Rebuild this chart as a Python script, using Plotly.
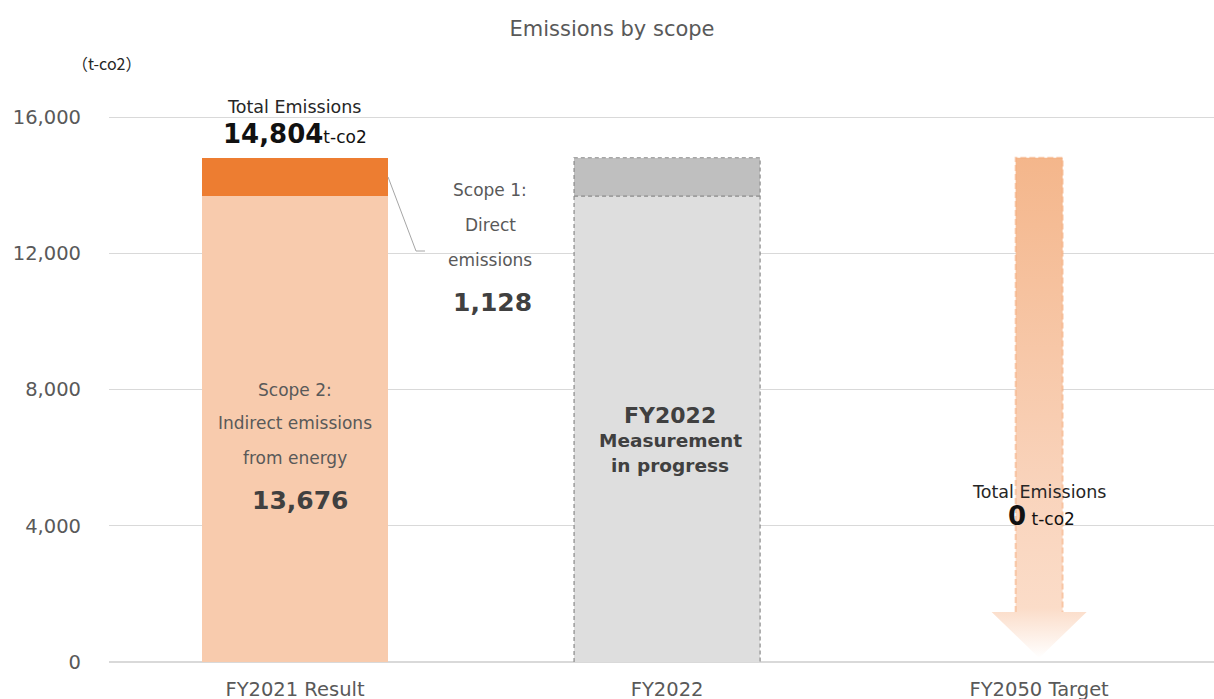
import plotly.graph_objects as go

# ---------------- data ----------------
categories = ["FY2021 Result", "FY2022", "FY2050 Target"]
scope2_values = [13676, 13676]   # FY2021 result, FY2022 placeholder (measurement in progress)
scope1_values = [1128, 1128]
target_2050 = 0
y_tick_values = [0, 4000, 8000, 12000, 16000]
y_tick_labels = ["0", "4,000", "8,000", "12,000", "16,000"]

# ---------------- layout constants ----------------
W, H = 1214, 699
ML, MR, MT, MB = 109, 0, 0, 37
X_RANGE = [-0.5, 2.47]
PX_PER_UNIT_Y = 545 / 16000.0           # pixels per t-co2
Y_TOP = (H - MB - MT) / PX_PER_UNIT_Y   # range top so that 16,000 sits at y=117
BAR_W = 0.5
FONT = "DejaVu Sans"
GREY = "#595959"
DARK = "#404040"


def px2x(px):
    return X_RANGE[0] + (px - ML) * (X_RANGE[1] - X_RANGE[0]) / (W - ML - MR)


def py2y(py):
    return (H - MB - py) / PX_PER_UNIT_Y


total_2021 = scope1_values[0] + scope2_values[0]
total_2022 = scope1_values[1] + scope2_values[1]

fig = go.Figure()

# stacked bars (FY2021 + FY2022 placeholder)
fig.add_trace(go.Bar(
    x=[0, 1], y=scope2_values, width=BAR_W,
    marker=dict(color=["#F8CBAD", "#DEDEDE"], line=dict(width=0)),
    hoverinfo="skip", showlegend=False))
fig.add_trace(go.Bar(
    x=[0, 1], y=scope1_values, width=BAR_W,
    marker=dict(color=["#ED7D31", "#BFBFBF"], line=dict(width=0)),
    hoverinfo="skip", showlegend=False))

# dashed outline of FY2022 placeholder
c = 1
fig.add_trace(go.Scatter(
    x=[c - BAR_W / 2, c - BAR_W / 2, c + BAR_W / 2, c + BAR_W / 2, None,
       c - BAR_W / 2, c + BAR_W / 2],
    y=[0, total_2022, total_2022, 0, None, scope2_values[1], scope2_values[1]],
    mode="lines", line=dict(color="#8a8a8a", width=1.2, dash="4px,3px"),
    hoverinfo="skip", showlegend=False))

# FY2050 gradient arrow from FY2021 total down to target
c = 2
hw_s = px2x(295 + 23.5) - px2x(295)
hw_h = px2x(295 + 47.5) - px2x(295)
head_top = py2y(612)
tip = max(target_2050, py2y(658))
arrow_x = [c - hw_s, c + hw_s, c + hw_s, c + hw_h, c, c - hw_h, c - hw_s, c - hw_s]
arrow_y = [total_2021, total_2021, head_top, head_top, tip, head_top, head_top, total_2021]
fig.add_trace(go.Scatter(
    x=arrow_x, y=arrow_y, mode="lines", fill="toself",
    line=dict(width=0, color="rgba(0,0,0,0)"),
    fillgradient=dict(type="vertical",
                      colorscale=[[0, "rgba(255,255,255,1)"], [0.1, "#fbdcc8"],
                                  [0.35, "#f9d3bb"], [1, "#f4b68b"]]),
    hoverinfo="skip", showlegend=False))
fig.add_trace(go.Scatter(
    x=[c - hw_s, c - hw_s, c + hw_s, c + hw_s],
    y=[head_top, total_2021, total_2021, head_top],
    mode="lines", line=dict(color="rgba(244,170,120,0.55)", width=2, dash="6px,3px"),
    hoverinfo="skip", showlegend=False))

# leader line from scope 1 segment to its label
s1_mid = scope2_values[0] + scope1_values[0] / 2
fig.add_trace(go.Scatter(
    x=[BAR_W / 2, px2x(416), px2x(425)],
    y=[s1_mid, py2y(251), py2y(251)],
    mode="lines", line=dict(color="#a6a6a6", width=1),
    hoverinfo="skip", showlegend=False))

annotations = []


def add_text(text, px, py, size, color=GREY, bold=False):
    if bold:
        text = f"<b>{text}</b>"
    annotations.append(dict(
        x=px2x(px), y=py2y(py), xref="x", yref="y", text=text, showarrow=False,
        xanchor="center", yanchor="middle",
        font=dict(family=FONT, size=size, color=color)))


# unit label (outside the plot area, so paper-referenced)
annotations.append(dict(
    x=(106 - ML) / (W - ML - MR), y=1 - 63 / (H - MB - MT), xref="paper", yref="paper",
    text="（t-co2）", showarrow=False, xanchor="center", yanchor="middle",
    font=dict(family="Noto Sans CJK JP", size=16, color="#262626")))

# FY2021 total
add_text("Total Emissions", 294, 107, 17.5, "#262626")
add_text(f"<span style='font-size:26px'><b>{total_2021:,}</b></span>"
         f"<span style='font-size:17px'>t-co2</span>", 295, 134, 17, "#111111")

# Scope 2 label
add_text("Scope 2:", 295, 390, 17)
add_text("Indirect emissions", 295, 423, 17)
add_text("from energy", 295, 458, 17)
add_text(f"{scope2_values[0]:,}", 300, 500, 25, DARK, bold=True)

# Scope 1 label
add_text("Scope 1:", 490, 190, 17)
add_text("Direct", 490, 225, 17)
add_text("emissions", 490, 260, 17)
add_text(f"{scope1_values[0]:,}", 492, 302, 25, DARK, bold=True)

# FY2022 label
add_text("FY2022", 670, 415, 22, DARK, bold=True)
add_text("Measurement", 670, 440, 18.5, DARK, bold=True)
add_text("in progress", 670, 465, 18.5, DARK, bold=True)

# FY2050 label
add_text("Total Emissions", 1039, 492, 17.5, "#262626")
add_text(f"<span style='font-size:26px'><b>{target_2050:,}</b></span>"
         f"<span style='font-size:17px'> t-co2</span>", 1041, 516, 17, "#111111")

fig.update_layout(
    width=W, height=H,
    margin=dict(l=ML, r=MR, t=MT, b=MB, autoexpand=False),
    paper_bgcolor="white", plot_bgcolor="white",
    barmode="stack", bargap=0,
    title=dict(text="Emissions by scope", x=612 / W, y=1 - 29 / H,
               xanchor="center", yanchor="middle",
               font=dict(family=FONT, size=21, color=GREY)),
    annotations=annotations,
    xaxis=dict(range=X_RANGE, tickmode="array", tickvals=[0, 1, 2], ticktext=categories,
               showgrid=False, zeroline=False, showline=False, ticks="", automargin=False,
               tickfont=dict(family=FONT, size=19.5, color=GREY), ticklabelstandoff=13),
    yaxis=dict(range=[0, Y_TOP], tickmode="array", tickvals=y_tick_values,
               ticktext=y_tick_labels, showgrid=True, gridcolor="#d9d9d9", gridwidth=1,
               zeroline=True, zerolinecolor="#d9d9d9", zerolinewidth=1.5,
               showline=False, ticks="", automargin=False,
               tickfont=dict(family=FONT, size=19.5, color=GREY), ticklabelstandoff=27),
)

fig.write_html("out.html")
